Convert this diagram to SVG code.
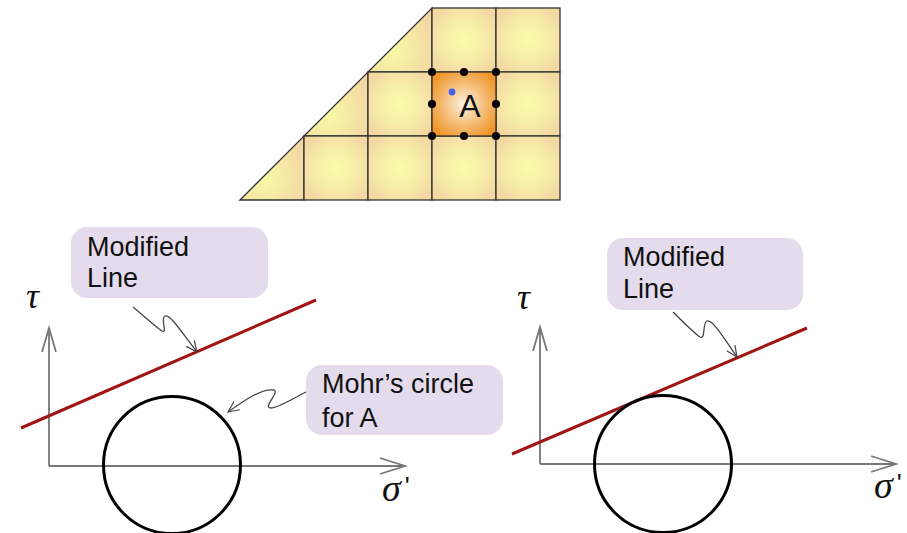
<svg xmlns="http://www.w3.org/2000/svg" width="907" height="533" viewBox="0 0 907 533">
<defs>
<radialGradient id="gCell" cx="0.5" cy="0.5" r="0.6">
<stop offset="0" stop-color="#f8fba6"/>
<stop offset="0.45" stop-color="#f7f0a8"/>
<stop offset="1" stop-color="#f3d8a4"/>
</radialGradient>
<radialGradient id="gTri" cx="0.35" cy="0.65" r="0.7">
<stop offset="0" stop-color="#f8fba6"/>
<stop offset="1" stop-color="#f3d8a4"/>
</radialGradient>
<radialGradient id="gA" cx="0.5" cy="0.5" r="0.6">
<stop offset="0" stop-color="#fcf2e6"/>
<stop offset="0.5" stop-color="#f6c27e"/>
<stop offset="1" stop-color="#ef9328"/>
</radialGradient>
<marker id="open" viewBox="0 0 12 12" refX="11" refY="6" markerWidth="12" markerHeight="12" markerUnits="userSpaceOnUse" orient="auto">
<path d="M0,1 L11,6 L0,11" fill="none" stroke="#444" stroke-width="1.2"/>
</marker>
</defs>
<style>
.cell{fill:url(#gCell);stroke:#333;stroke-width:1.3}
.tri{fill:url(#gTri);stroke:#333;stroke-width:1.3}
.dot{fill:#000}
.axis{stroke:#777;stroke-width:1.8;fill:none}
.mc{stroke:#a01414;stroke-width:3;fill:none}
.circ{stroke:#000;stroke-width:3;fill:none}
.box{fill:#e4dcec}
.lbl{font-family:"Liberation Sans",Arial,sans-serif;font-size:27px;fill:#111}
.sym{font-family:"Liberation Serif","Times New Roman",serif;font-style:italic;fill:#111}
.pr{font-family:"Liberation Sans",Arial,sans-serif;font-style:normal;font-size:26px}
.call{stroke:#444;stroke-width:1.3;fill:none}
</style>

<g id="mesh">
<polygon class="tri" points="368,72 432,8 432,72"/>
<polygon class="tri" points="304,136 368,72 368,136"/>
<polygon class="tri" points="240,200 304,136 304,200"/>
<rect class="cell" x="432" y="8" width="64" height="64"/>
<rect class="cell" x="496" y="8" width="64" height="64"/>
<rect class="cell" x="368" y="72" width="64" height="64"/>
<rect class="cell" x="496" y="72" width="64" height="64"/>
<rect class="cell" x="304" y="136" width="64" height="64"/>
<rect class="cell" x="368" y="136" width="64" height="64"/>
<rect class="cell" x="432" y="136" width="64" height="64"/>
<rect class="cell" x="496" y="136" width="64" height="64"/>
</g>
<g id="cellA">
<rect x="432" y="72" width="64" height="64" fill="url(#gA)" stroke="#333" stroke-width="1.3"/>
<circle class="dot" cx="432" cy="72" r="4"/>
<circle class="dot" cx="464" cy="72" r="4"/>
<circle class="dot" cx="496" cy="72" r="4"/>
<circle class="dot" cx="432" cy="104" r="4"/>
<circle class="dot" cx="496" cy="104" r="4"/>
<circle class="dot" cx="432" cy="136" r="4"/>
<circle class="dot" cx="464" cy="136" r="4"/>
<circle class="dot" cx="496" cy="136" r="4"/>
<circle cx="452" cy="92" r="3.4" fill="#4a5ee8"/>
<text x="470" y="117" text-anchor="middle" font-family="Liberation Sans, Arial, sans-serif" font-size="32" fill="#111">A</text>
</g>

<g id="left-plot">
<path class="axis" d="M49,466 V329 M49,466 H404"/>
<path class="axis" d="M42,352 L49,328 L56,352"/>
<path class="axis" d="M380,458 L405,466 L380,474"/>
<text class="sym" x="26" y="308" font-size="36">τ</text>
<text class="sym" x="382" y="501" font-size="38">σ<tspan class="pr" dx="4" dy="-6">'</tspan></text>
<line class="mc" x1="21" y1="428" x2="316" y2="300"/>
<circle class="circ" cx="172" cy="465" r="68.5"/>
</g>

<g id="right-plot">
<path class="axis" d="M540,464 V328 M540,464 H895"/>
<path class="axis" d="M533,351 L540,327 L547,351"/>
<path class="axis" d="M871,456 L896,464 L871,472"/>
<text class="sym" x="517" y="309" font-size="36">τ</text>
<text class="sym" x="874" y="498" font-size="38">σ<tspan class="pr" dx="4" dy="-6">'</tspan></text>
<line class="mc" x1="512" y1="454" x2="807" y2="328"/>
<circle class="circ" cx="663" cy="464" r="68.5"/>
</g>

<g id="callout-left-line">
<rect class="box" x="71" y="227" width="197" height="71" rx="16"/>
<text class="lbl" x="87" y="256">Modified</text>
<text class="lbl" x="87" y="287">Line</text>
</g>
<g id="callout-mohr">
<rect class="box" x="306" y="365" width="197" height="70" rx="16"/>
<text class="lbl" x="322" y="393">Mohr’s circle</text>
<text class="lbl" x="322" y="427">for A</text>
</g>
<g id="callout-right-line">
<rect class="box" x="607" y="238" width="196" height="72" rx="16"/>
<text class="lbl" x="623" y="266">Modified</text>
<text class="lbl" x="623" y="298">Line</text>
</g>

<g id="connectors">
<path class="call" marker-end="url(#open)" d="M133,307 C145,317 155,326 162,331 C168,334 160,318 165,316 C170,314 180,330 197,352"/>
<path class="call" marker-end="url(#open)" d="M306,392 C290,400 278,408 271,408 C262,408 280,392 274,390 C262,388 245,400 228,412"/>
<path class="call" marker-end="url(#open)" d="M673,312 C683,322 694,333 700,337 C706,340 702,323 707,321 C712,319 722,335 737,357"/>
</g>
</svg>
